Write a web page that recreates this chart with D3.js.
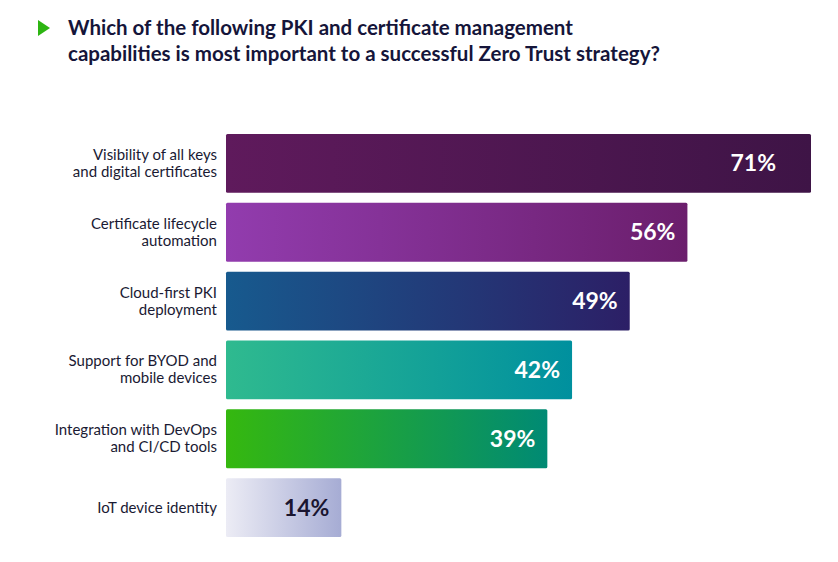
<!DOCTYPE html>
<html><head><meta charset="utf-8">
<script src="https://cdn.jsdelivr.net/npm/d3@7"></script>
<style>body{margin:0;background:#fff}svg{display:block}</style>
</head><body>
<svg id="c" width="838" height="562"></svg>
<script>
const categories = [
  ["Visibility of all keys","and digital certificates"],
  ["Certificate lifecycle","automation"],
  ["Cloud-first PKI","deployment"],
  ["Support for BYOD and","mobile devices"],
  ["Integration with DevOps","and CI/CD tools"],
  ["IoT device identity"]
];
const values = [71, 56, 49, 42, 39, 14];
const gradients = [
  ["#5f1a5c","#3e1446"],
  ["#923cae","#6b1e6c"],
  ["#175a8e","#2c1f66"],
  ["#2fba8f","#00909e"],
  ["#35b80f","#008a74"],
  ["#ececf5","#a6acd4"]
];
const textColors = ["#fff","#fff","#fff","#fff","#fff","#1a1530"];

const svg = d3.select("#c");
const x = d3.scaleLinear().domain([0,71]).range([226,811]);
const y = d3.scaleBand().domain(d3.range(values.length)).range([134,537]).paddingInner(0.145).paddingOuter(0);

const defs = svg.append("defs");
gradients.forEach((g,i)=>{
  const lg = defs.append("linearGradient").attr("id","g"+i).attr("x1","0").attr("x2","1").attr("y1","0").attr("y2","0");
  lg.append("stop").attr("offset","0").attr("stop-color",g[0]);
  lg.append("stop").attr("offset","1").attr("stop-color",g[1]);
});

// title
svg.append("path").attr("d","M38,20 L50,28 L38,36 Z").attr("fill","#2db512");
const title = svg.append("text").attr("font-family","Lato, 'Open Sans', sans-serif").attr("font-weight","bold").attr("font-size",20.5).attr("fill","#15153a");
title.append("tspan").attr("x",68).attr("y",35).text("Which of the following PKI and certificate management");
title.append("tspan").attr("x",68).attr("y",61).text("capabilities is most important to a successful Zero Trust strategy?");

const g = svg.append("g");
values.forEach((v,i)=>{
  g.append("rect").attr("x",x(0)).attr("y",y(i)).attr("width",x(v)-x(0)).attr("height",y.bandwidth())
    .attr("rx",1.5).attr("fill","url(#g"+i+")");
  g.append("text").attr("x",x(v)-(i===0?35:12)).attr("y",y(i)+y.bandwidth()/2+8)
    .attr("text-anchor","end").attr("font-family","Lato, sans-serif").attr("font-weight","bold")
    .attr("font-size",23).attr("fill",textColors[i]).text(v+"%");
  const lines = categories[i];
  const t = g.append("text").attr("text-anchor","end").attr("font-family","Lato, 'Open Sans', sans-serif")
    .attr("font-size",15).attr("fill","#1a1a33");
  const cy = y(i)+y.bandwidth()/2;
  lines.forEach((l,j)=>{
    t.append("tspan").attr("x",217).attr("y",cy+5+(j-(lines.length-1)/2)*17).text(l);
  });
});
</script>
</body></html>
